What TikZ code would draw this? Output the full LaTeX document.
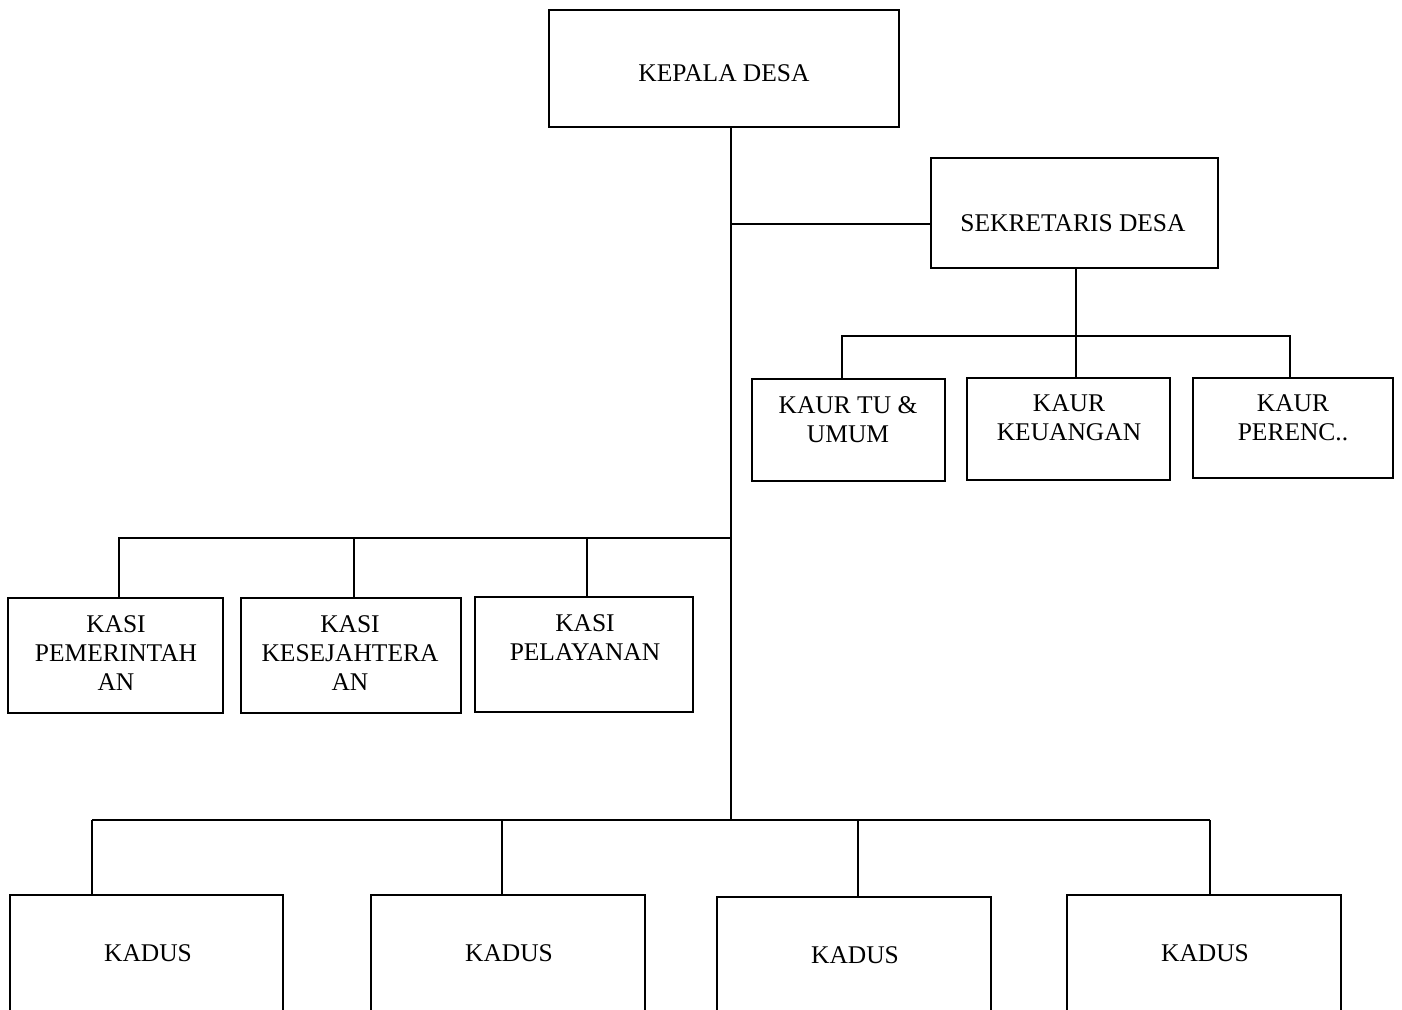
\documentclass[tikz,border=0pt]{standalone}
\usepackage{fontspec}
\setmainfont{Liberation Serif}
\begin{document}
\begin{tikzpicture}[x=0.02cm,y=-0.02cm,
  box/.style={draw,line width=0.9pt,inner sep=0pt},
  lbl/.style={align=center,inner sep=0pt,font=\fontsize{14.5}{16.5}\selectfont},
  conn/.style={line width=0.8pt},
  busline/.style={line width=1.6pt}]
\useasboundingbox (0,0) rectangle (1402,1009);
\clip (0,0) rectangle (1402,1009);
% boxes
\node[box,minimum width=7cm,minimum height=2.34cm] (kepala) at (724,68.5) {};
\node[box,minimum width=5.74cm,minimum height=2.2cm] (sekdes) at (1074.5,213) {};
\node[box,minimum width=3.86cm,minimum height=2.04cm] (kaur1) at (848.5,430) {};
\node[box,minimum width=4.06cm,minimum height=2.04cm] (kaur2) at (1068.5,429) {};
\node[box,minimum width=4.0cm,minimum height=2.0cm] (kaur3) at (1293,428) {};
\node[box,minimum width=4.3cm,minimum height=2.3cm] (kasi1) at (115.5,655.5) {};
\node[box,minimum width=4.4cm,minimum height=2.3cm] (kasi2) at (351,655.5) {};
\node[box,minimum width=4.36cm,minimum height=2.3cm] (kasi3) at (584,654.5) {};
\node[box,minimum width=5.46cm,minimum height=3cm] (kadus1) at (146.5,970) {};
\node[box,minimum width=5.48cm,minimum height=3cm] (kadus2) at (508,970) {};
\node[box,minimum width=5.48cm,minimum height=3cm] (kadus3) at (854,972) {};
\node[box,minimum width=5.48cm,minimum height=3cm] (kadus4) at (1204,970) {};
% labels
\node[lbl] (tkepala) at (724,73) {KEPALA DESA};
\node[lbl] (tsekdes) at (1073,223) {SEKRETARIS DESA};
\node[lbl] (tkaur1) at (848,420) {KAUR TU \&\\UMUM};
\node[lbl] (tkaur2) at (1069,418) {KAUR\\KEUANGAN};
\node[lbl] (tkaur3) at (1293,418) {KAUR\\PERENC..};
\node[lbl] (tkasi1) at (116,653) {KASI\\PEMERINTAH\\AN};
\node[lbl] (tkasi2) at (350,653) {KASI\\KESEJAHTERA\\AN};
\node[lbl] (tkasi3) at (585,638) {KASI\\PELAYANAN};
\node[lbl] (tkadus1) at (148,953) {KADUS};
\node[lbl] (tkadus2) at (509,953) {KADUS};
\node[lbl] (tkadus3) at (855,955) {KADUS};
\node[lbl] (tkadus4) at (1205,953) {KADUS};
% coordinates
\coordinate (bus) at (731,820);
\coordinate (sj) at (731,224);
\coordinate (kb) at (1076,336);
\coordinate (kbl) at (842,336);
\coordinate (kbr) at (1290,336);
\coordinate (ka) at (731,538);
\coordinate (kal) at (119,538);
\coordinate (kam) at (354,538);
\coordinate (kar) at (587,538);
\coordinate (b1) at (92,820);
\coordinate (b2) at (502,820);
\coordinate (b3) at (858,820);
\coordinate (b4) at (1210,820);
% connectors
\draw[conn] (kepala.south -| bus) -- (bus);
\draw[conn] (sj) -- (sj -| sekdes.west);
\draw[conn] (sekdes.south -| kb) -- (kb);
\draw[conn] (kbl |- kaur1.north) -- (kbl) -- (kbr) -- (kbr |- kaur3.north);
\draw[conn] (kb) -- (kaur2.north -| kb);
\draw[conn] (kal |- kasi1.north) -- (kal) -- (ka);
\draw[conn] (kam |- kasi2.north) -- (kam);
\draw[conn] (kar |- kasi3.north) -- (kar);
\draw[busline] (b1) -- (b4);
\draw[conn] (b1) -- (b1 |- kadus1.north);
\draw[conn] (b2) -- (b2 |- kadus2.north);
\draw[conn] (b3) -- (b3 |- kadus3.north);
\draw[conn] (b4) -- (b4 |- kadus4.north);
\end{tikzpicture}
\end{document}
